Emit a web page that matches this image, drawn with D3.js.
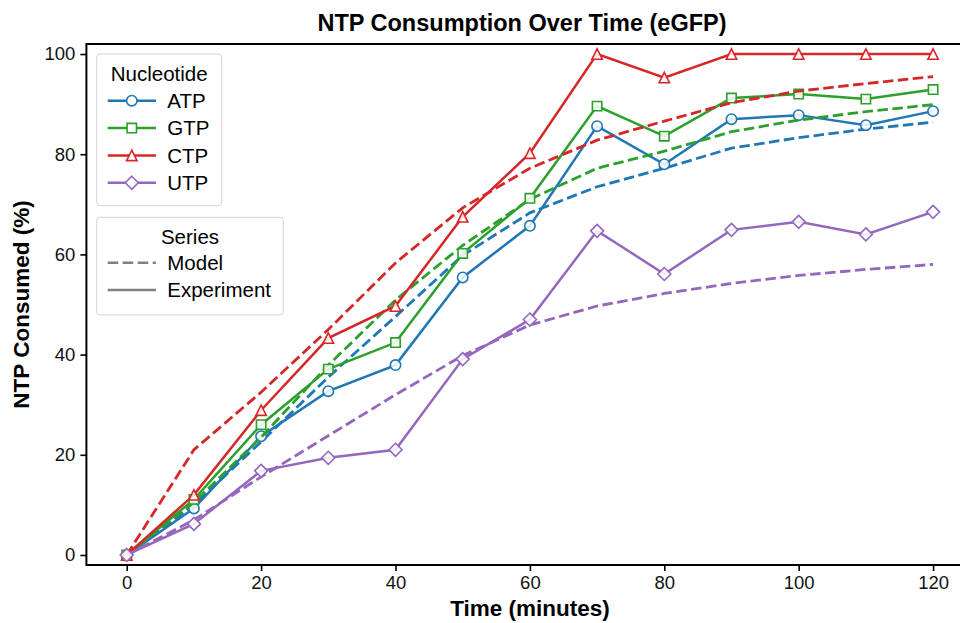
<!DOCTYPE html>
<html>
<head>
<meta charset="utf-8">
<script src="https://cdn.jsdelivr.net/npm/d3@7"></script>
<style>
  body { margin: 0; background: #fff; }
  text { font-family: "Liberation Sans", Arial, Helvetica, sans-serif; }
</style>
</head>
<body>
<div id="chart"></div>
<script>
// time points (minutes)
var times = [0, 10, 20, 30, 40, 50, 60, 70, 80, 90, 100, 110, 120]

var nucleotides = ['ATP', 'GTP', 'CTP', 'UTP']
var colors = ['#1f77b4', '#2ca02c', '#d62728', '#9467bd']
var markers = ['circle', 'square', 'triangle', 'diamond']

// experiment values (% consumed)
var exp_atp = [0, 9.3, 23.7, 32.7, 37.9, 55.4, 65.7, 85.6, 78.0, 87.0, 87.8, 85.8, 88.6]
var exp_gtp = [0, 11.1, 26.0, 37.1, 42.4, 60.2, 71.2, 89.6, 83.6, 91.2, 92.0, 91.0, 92.9]
var exp_ctp = [0, 12.0, 28.9, 43.3, 49.7, 67.5, 80.2, 100, 95.3, 100, 100, 100, 100]
var exp_utp = [0, 6.2, 16.8, 19.4, 21.0, 39.1, 47.0, 64.7, 56.1, 64.9, 66.5, 64.0, 68.5]

// model values (% consumed)
var mod_atp = [0, 10.0, 22.6, 35.5, 47.6, 59.8, 68.3, 73.5, 77.2, 81.2, 83.3, 85.0, 86.4]
var mod_gtp = [0, 10.5, 23.5, 37.9, 50.9, 61.8, 71.0, 77.2, 80.6, 84.5, 86.8, 88.5, 89.9]
var mod_ctp = [0, 21.0, 32.5, 45.0, 58.3, 69.3, 77.2, 82.8, 86.6, 90.3, 92.6, 94.1, 95.5]
var mod_utp = [0, 7.0, 15.6, 23.8, 32.0, 39.8, 45.9, 49.7, 52.2, 54.2, 55.8, 57.0, 58.0]

var exp_series = [exp_atp, exp_gtp, exp_ctp, exp_utp]
var mod_series = [mod_atp, mod_gtp, mod_ctp, mod_utp]

var x_ticks = [0, 20, 40, 60, 80, 100, 120]
var y_ticks = [0, 20, 40, 60, 80, 100]

var w = 960
var h = 623
var m_left = 86.4, m_right = 973.4, m_top = 44, m_bottom = 565

var svg = d3.select('#chart').append('svg')
  .attr('width', w)
  .attr('height', h)

var x = d3.scaleLinear().domain([-6, 126]).range([m_left, m_right])
var y = d3.scaleLinear().domain([-2, 102]).range([m_bottom, m_top])

// marker path, centred on 0,0
function marker_path (kind, s) {
  var p = d3.path()
  if (kind === 'circle') {
    p.arc(0, 0, s, 0, 2 * Math.PI)
  } else if (kind === 'square') {
    p.rect(-s * 0.9, -s * 0.9, s * 1.8, s * 1.8)
  } else if (kind === 'triangle') {
    p.moveTo(0, -s)
    p.lineTo(s, s)
    p.lineTo(-s, s)
    p.closePath()
  } else {
    var d = s * 1.25
    p.moveTo(0, -d)
    p.lineTo(d, 0)
    p.lineTo(0, d)
    p.lineTo(-d, 0)
    p.closePath()
  }
  return p.toString()
}

var line = d3.line()
  .x(function (d) { return x(d[0]) })
  .y(function (d) { return y(d[1]) })

var plot = svg.append('g')

nucleotides.forEach(function (name, idx) {
  var model = times.map(function (t, i) { return [t, mod_series[idx][i]] })
  var expt = times.map(function (t, i) { return [t, exp_series[idx][i]] })

  plot.append('path')
    .attr('d', line(model))
    .attr('fill', 'none')
    .attr('stroke', colors[idx])
    .attr('stroke-width', 2.8)
    .attr('stroke-dasharray', '10.5,4.5')

  plot.append('path')
    .attr('d', line(expt))
    .attr('fill', 'none')
    .attr('stroke', colors[idx])
    .attr('stroke-width', 2.5)

  expt.forEach(function (d) {
    plot.append('path')
      .attr('d', marker_path(markers[idx], 5.2))
      .attr('transform', 'translate(' + x(d[0]) + ',' + y(d[1]) + ')')
      .attr('fill', 'white')
      .attr('fill-opacity', 0.85)
      .attr('stroke', colors[idx])
      .attr('stroke-width', 1.6)
  })
})

// axes
var x_axis = svg.append('g')
  .attr('transform', 'translate(0,' + m_bottom + ')')
  .call(d3.axisBottom(x).tickValues(x_ticks).tickSize(6).tickPadding(5))
var y_axis = svg.append('g')
  .attr('transform', 'translate(' + m_left + ',0)')
  .call(d3.axisLeft(y).tickValues(y_ticks).tickSize(6).tickPadding(5))

;[x_axis, y_axis].forEach(function (a) {
  a.select('.domain').remove()
  a.selectAll('line').attr('stroke', '#000').attr('stroke-width', 1.6)
  a.selectAll('text').style('font-size', '18.5px').attr('fill', '#111')
})

// frame
svg.append('rect')
  .attr('x', m_left)
  .attr('y', m_top)
  .attr('width', m_right - m_left)
  .attr('height', m_bottom - m_top)
  .attr('fill', 'none')
  .attr('stroke', '#000')
  .attr('stroke-width', 2)

// labels
svg.append('text').text('NTP Consumption Over Time (eGFP)')
  .attr('x', 522)
  .attr('y', 31)
  .attr('text-anchor', 'middle')
  .style('font-size', '23.5px')
  .style('font-weight', 'bold')

svg.append('text').text('Time (minutes)')
  .attr('x', 530)
  .attr('y', 616)
  .attr('text-anchor', 'middle')
  .style('font-size', '22.5px')
  .style('font-weight', 'bold')

svg.append('text').text('NTP Consumed (%)')
  .attr('transform', 'translate(29,' + ((m_top + m_bottom) / 2) + ') rotate(-90)')
  .attr('text-anchor', 'middle')
  .style('font-size', '22.5px')
  .style('font-weight', 'bold')

// legend: nucleotide
var leg1 = svg.append('g')
leg1.append('rect')
  .attr('x', 96.7).attr('y', 54)
  .attr('width', 125).attr('height', 151.7)
  .attr('rx', 3.5)
  .attr('fill', 'white').attr('fill-opacity', 0.8)
  .attr('stroke', '#d4d4d4').attr('stroke-width', 1)
leg1.append('text').text('Nucleotide')
  .attr('x', 159.2).attr('y', 80.5)
  .attr('text-anchor', 'middle')
  .style('font-size', '20.5px')
nucleotides.forEach(function (name, idx) {
  var ly = 100.7 + idx * 27.35
  leg1.append('line')
    .attr('x1', 107.7).attr('x2', 156)
    .attr('y1', ly).attr('y2', ly)
    .attr('stroke', colors[idx]).attr('stroke-width', 2.5)
  leg1.append('path')
    .attr('d', marker_path(markers[idx], 5.2))
    .attr('transform', 'translate(131.8,' + ly + ')')
    .attr('fill', 'white')
    .attr('stroke', colors[idx]).attr('stroke-width', 1.6)
  leg1.append('text').text(name)
    .attr('x', 167.3).attr('y', ly)
    .attr('dy', '0.36em')
    .style('font-size', '20.5px')
})

// legend: series
var series_names = ['Model', 'Experiment']
var series_dash = ['10.5,4.5', null]
var leg2 = svg.append('g')
leg2.append('rect')
  .attr('x', 96.7).attr('y', 217.3)
  .attr('width', 186.6).attr('height', 97.7)
  .attr('rx', 3.5)
  .attr('fill', 'white').attr('fill-opacity', 0.8)
  .attr('stroke', '#d4d4d4').attr('stroke-width', 1)
leg2.append('text').text('Series')
  .attr('x', 190).attr('y', 244)
  .attr('text-anchor', 'middle')
  .style('font-size', '20.5px')
series_names.forEach(function (name, idx) {
  var ly = 262.7 + idx * 27.35
  leg2.append('line')
    .attr('x1', 107.7).attr('x2', 156)
    .attr('y1', ly).attr('y2', ly)
    .attr('stroke', '#808080').attr('stroke-width', 2.6)
    .attr('stroke-dasharray', series_dash[idx])
  leg2.append('text').text(name)
    .attr('x', 167.3).attr('y', ly)
    .attr('dy', '0.36em')
    .style('font-size', '20.5px')
})
</script>
</body>
</html>
